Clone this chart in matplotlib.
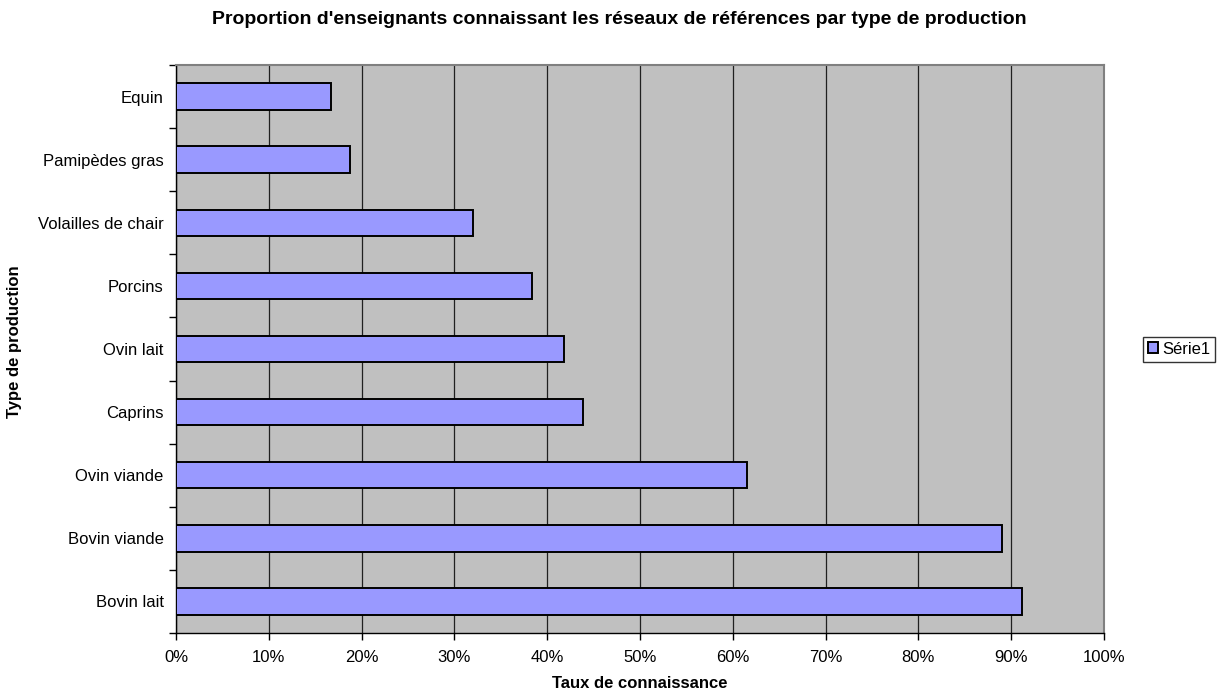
import numpy as np
import matplotlib
matplotlib.use('Agg')
import matplotlib.pyplot as plt
from matplotlib.ticker import FixedLocator, PercentFormatter

plt.rcParams['font.family'] = ['Liberation Sans', 'DejaVu Sans']

# production types, bottom to top
productions = ["Bovin lait", "Bovin viande", "Ovin viande", "Caprins", "Ovin lait",
               "Porcins", "Volailles de chair", "Pamipèdes gras", "Equin"]
taux = [91.2, 89.0, 61.5, 43.9, 41.8, 38.4, 32.0, 18.75, 16.7]
serie_label = "Série1"
x_ticks = list(range(0, 101, 10))

W, H = 1217, 691
fig = plt.figure(figsize=(W / 100, H / 100), dpi=100)
ax = fig.add_axes([176 / W, 1 - 633 / H, 928 / W, 568 / H])
ax.set_facecolor("#c0c0c0")

pos = np.arange(len(productions))
ax.barh(pos, taux, height=0.42, color="#9999ff", edgecolor="black",
        linewidth=1.4, label=serie_label, zorder=3)

ax.set_xlim(0, 100)
ax.set_ylim(-0.5, len(productions) - 0.5)
ax.set_xticks(x_ticks)
ax.xaxis.set_major_formatter(PercentFormatter(decimals=0))
ax.grid(axis="x", color="#202020", linewidth=0.9, zorder=1)
ax.set_axisbelow(True)

# category labels centred on bars, tick marks between categories
ax.set_yticks(pos)
ax.set_yticklabels(productions)
ax.tick_params(axis="y", length=0, pad=9, labelsize=12)
ax.yaxis.set_minor_locator(FixedLocator(np.arange(-0.5, len(productions), 1.0)))
ax.tick_params(axis="y", which="minor", length=5, width=1, direction="out")
ax.tick_params(axis="x", length=5, width=1, direction="out", labelsize=12, pad=7)

for side in ["left", "bottom"]:
    ax.spines[side].set_color("black")
    ax.spines[side].set_linewidth(1)
for side in ["top", "right"]:
    ax.spines[side].set_color("#808080")
    ax.spines[side].set_linewidth(1.5)

fig.text(640 / W, 1 - 684 / H, "Taux de connaissance", ha="center", va="center",
         fontsize=12, fontweight="bold")
fig.text(15 / W, 1 - 342 / H, "Type de production", ha="center", va="center",
         rotation=90, fontsize=12, fontweight="bold")
fig.text(619 / W, 1 - 20 / H,
         "Proportion d'enseignants connaissant les réseaux de références par type de production",
         ha="center", va="center", fontsize=14, fontweight="bold")

leg = ax.legend(loc="center left", bbox_to_anchor=(1.042, 0.5), frameon=True,
                fancybox=False, fontsize=12, handlelength=0.6, handleheight=0.6,
                handletextpad=0.25, borderpad=0.3, borderaxespad=0)
leg.get_frame().set_edgecolor("black")
leg.get_frame().set_linewidth(1)

fig.savefig("out.png", dpi=100)
